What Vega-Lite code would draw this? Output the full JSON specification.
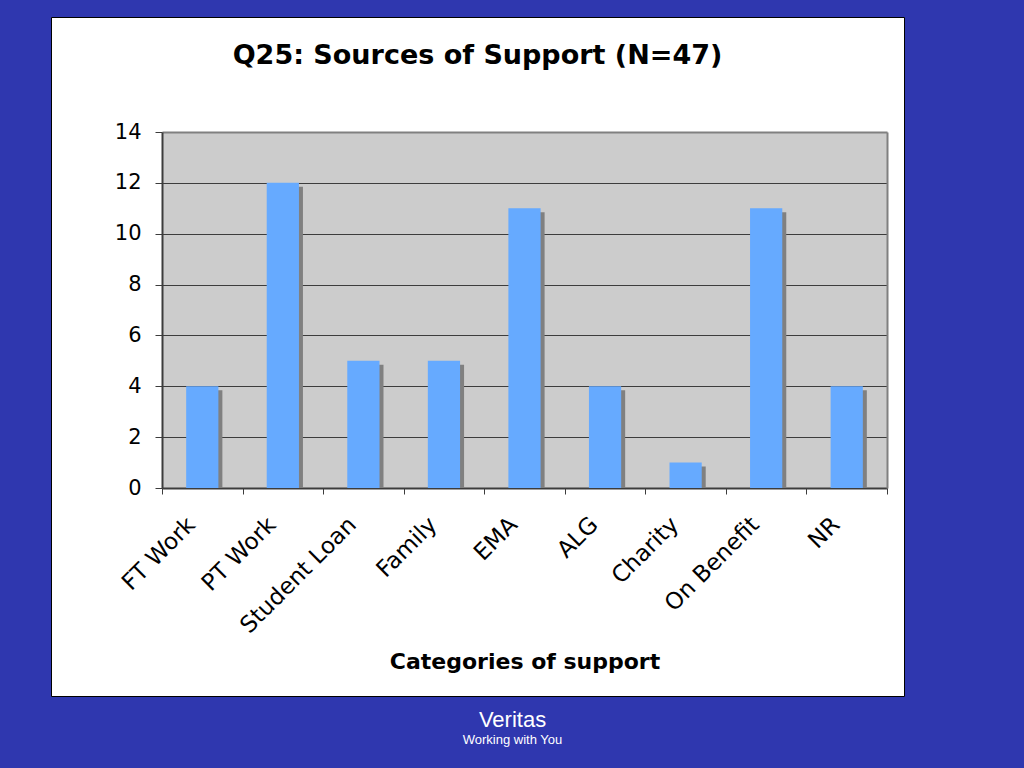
{
  "$schema": "https://vega.github.io/schema/vega-lite/v6.json",
  "background": "#2f37af",
  "padding": {"left": 50, "top": 16, "right": 120, "bottom": 21},
  "title": {
    "text": "Veritas",
    "subtitle": "Working with You",
    "orient": "bottom",
    "anchor": "middle",
    "offset": 13,
    "dx": 35,
    "font": "Liberation Sans",
    "fontSize": 22,
    "fontWeight": "normal",
    "color": "#ffffff",
    "subtitleFont": "Liberation Sans",
    "subtitleFontSize": 13,
    "subtitleColor": "#ffffff",
    "subtitlePadding": 2
  },
  "config": {
    "axis": {"labelFont": "DejaVu Sans", "titleFont": "DejaVu Sans"}
  },
  "vconcat": [
    {
      "width": 853,
      "height": 679,
      "view": {"fill": "#ffffff", "stroke": "#000000", "strokeWidth": 1},
      "title": {
        "text": "Q25: Sources of Support (N=47)",
        "orient": "top",
        "anchor": "middle",
        "frame": "group",
        "offset": -53,
        "font": "DejaVu Sans",
        "fontSize": 27,
        "fontWeight": "bold",
        "color": "#000000"
      },
      "data": {
        "values": [
          {"category": "FT Work", "count": 4},
          {"category": "PT Work", "count": 12},
          {"category": "Student Loan", "count": 5},
          {"category": "Family", "count": 5},
          {"category": "EMA", "count": 11},
          {"category": "ALG", "count": 4},
          {"category": "Charity", "count": 1},
          {"category": "On Benefit", "count": 11},
          {"category": "NR", "count": 4}
        ]
      },
      "encoding": {
        "x": {
          "field": "category",
          "type": "nominal",
          "sort": null,
          "scale": {"range": [111, 836], "paddingInner": 0, "paddingOuter": 0},
          "axis": {
            "title": "Categories of support",
            "orient": "bottom",
            "offset": -208,
            "labelAngle": -45,
            "labelFontSize": 23,
            "labelColor": "#000000",
            "labelPadding": 19,
            "labelOffset": -19,
            "labelOverlap": false,
            "tickBand": "extent",
            "tickSize": 6,
            "tickColor": "#3c3c3c",
            "domainColor": "#3c3c3c",
            "domainWidth": 2,
            "titleFontSize": 22,
            "titleFontWeight": "bold",
            "titleColor": "#000000",
            "titlePadding": 14,
            "grid": false
          }
        }
      },
      "layer": [
        {
          "mark": {"type": "bar", "width": {"band": 0.4}, "color": "#66aaff", "opacity": 0},
          "encoding": {
            "y": {
              "field": "count",
              "type": "quantitative",
              "stack": null,
              "scale": {"domain": [0, 14], "range": [471, 115], "nice": false, "zero": true},
              "axis": {
                "orient": "left",
                "offset": -111,
                "values": [7],
                "grid": true,
                "gridColor": "#cccccc",
                "gridWidth": 356,
                "gridOpacity": 1,
                "labels": false,
                "ticks": false,
                "domain": false,
                "title": null
              }
            }
          }
        },
        {
          "mark": {"type": "bar", "width": {"band": 0.4}, "color": "#808080", "xOffset": 4, "yOffset": 4},
          "encoding": {
            "y": {
              "field": "count",
              "type": "quantitative",
              "stack": null,
              "axis": {
                "orient": "right",
                "offset": -17,
                "values": [7],
                "grid": false,
                "labels": false,
                "ticks": false,
                "domain": true,
                "domainColor": "#808080",
                "domainWidth": 2,
                "title": null
              }
            }
          }
        },
        {
          "mark": {"type": "bar", "width": {"band": 0.4}, "color": "#66aaff"},
          "encoding": {
            "y": {
              "field": "count",
              "type": "quantitative",
              "stack": null,
              "axis": {
                "orient": "left",
                "offset": -111,
                "values": [0, 2, 4, 6, 8, 10, 12, 14],
                "title": null,
                "grid": true,
                "gridColor": {"condition": {"test": "datum.value === 14", "value": "#808080"}, "value": "#3c3c3c"},
                "gridWidth": {"condition": {"test": "datum.value === 14", "value": 2}, "value": 1},
                "gridOpacity": 1,
                "labelFontSize": 21,
                "labelColor": "#000000",
                "labelPadding": 14,
                "tickSize": 7,
                "tickColor": "#3c3c3c",
                "domainColor": "#3c3c3c",
                "domainWidth": 2
              }
            }
          }
        }
      ],
      "resolve": {"axis": {"y": "independent"}}
    }
  ]
}
